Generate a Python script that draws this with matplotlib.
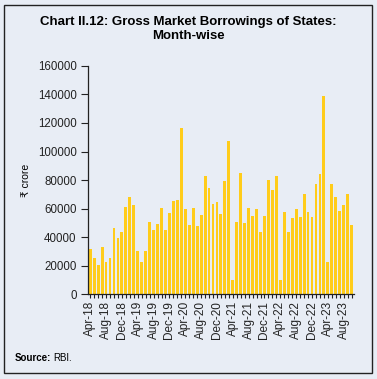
import matplotlib.pyplot as plt
from matplotlib.patches import Rectangle

plt.rcParams['font.family'] = ['Liberation Sans', 'DejaVu Sans']

# monthly gross market borrowings of states (Rs crore), Apr-18 to Oct-23
months = ['Apr', 'May', 'Jun', 'Jul', 'Aug', 'Sep', 'Oct', 'Nov', 'Dec', 'Jan', 'Feb', 'Mar']
labels = []
for i in range(67):
    m = months[i % 12]
    yr = 18 + (i + 3) // 12
    labels.append(f"{m}-{yr}")

values = [31800, 25300, 20100, 32700, 22700, 25500, 46500, 39300, 43700, 61000, 67800, 62200,
          30000, 22200, 30000, 50800, 44700, 48900, 60400, 45100, 56600, 65300, 66000, 116500,
          59400, 48200, 60100, 47700, 55700, 83000, 74400, 63400, 64800, 55900, 79500, 107600,
          9600, 50800, 84900, 49600, 60600, 55000, 59600, 43700, 54700, 79800, 73000, 83000,
          10100, 57800, 43300, 53100, 59600, 53800, 70400, 57500, 53800, 77400, 84400, 139000,
          22700, 77400, 68100, 58000, 62500, 70400, 48400]

bg = '#e8edf5'
fig = plt.figure(figsize=(3.77, 3.79), dpi=100, facecolor=bg)
ax = fig.add_axes([0.233, 0.224, 0.706, 0.602])
ax.set_facecolor(bg)

x = list(range(len(values)))
ax.bar(x, values, width=0.72, color='#ffcc1a', edgecolor='none')

ax.set_xlim(-0.6, len(values) - 0.4)
ax.set_ylim(0, 160000)
ax.set_yticks(range(0, 160001, 20000))
ax.set_xticks(x)
ax.set_xticklabels([l if i % 4 == 0 else '' for i, l in enumerate(labels)], rotation=90)
ax.tick_params(axis='x', length=3, width=0.8, labelsize=8.5, pad=2, colors='#222222')
ax.tick_params(axis='y', length=5, width=0.8, labelsize=8.3, pad=3, colors='#222222')
for s in ['top', 'right']:
    ax.spines[s].set_visible(False)
for s in ['left', 'bottom']:
    ax.spines[s].set_linewidth(0.9)
    ax.spines[s].set_color('#222222')
ax.set_ylabel('₹ crore', fontsize=7.5, labelpad=5)

fig.text(0.5, 0.958, 'Chart II.12: Gross Market Borrowings of States:\nMonth-wise',
         ha='center', va='top', fontsize=9.5, fontweight='bold', linespacing=1.2)
src = fig.text(0.04, 0.055, 'Source:', fontsize=7, fontweight='bold', va='center')
fig.canvas.draw()
bb = src.get_window_extent()
fig.text((bb.x1 + 2) / fig.bbox.width, 0.055, 'RBI.', fontsize=7, va='center')

fig.patches.append(Rectangle((4 / 377, 6 / 379), 368 / 377, 368 / 379,
                             transform=fig.transFigure, fill=False,
                             edgecolor='#222222', linewidth=1.0))

fig.savefig('out.png', dpi=100, facecolor=bg)
